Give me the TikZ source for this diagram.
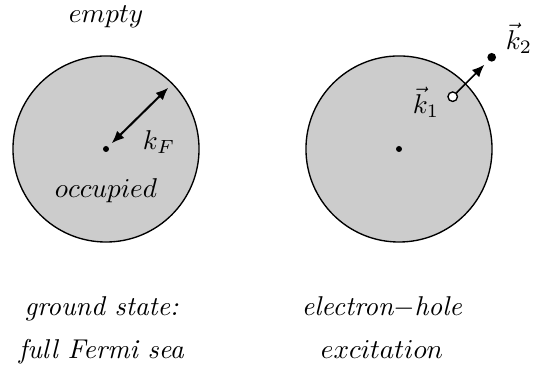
\documentclass[tikz,border=0pt]{standalone}
\usetikzlibrary{arrows.meta}
\begin{document}
\begin{tikzpicture}[x=0.3676pt,y=-0.3676pt,
  >={Latex[length=4.6pt,width=3.8pt]},
  sea/.style={circle,draw,line width=0.5pt,fill=black!20,minimum size=68.4pt,inner sep=0pt},
  cdot/.style={circle,fill=black,minimum size=2.2pt,inner sep=0pt},
  elec/.style={circle,fill=black,minimum size=3.2pt,inner sep=0pt},
  hole/.style={circle,draw,line width=0.5pt,fill=white,minimum size=3.5pt,inner sep=0pt},
  lbl/.style={inner sep=0pt}]
\useasboundingbox (0,0) rectangle (546,367);
% left
\node[sea] (c1) at (106,149) {};
\node[cdot] (d1) at (106,149) {};
\coordinate (a1) at (111.7,143.3);
\coordinate (b1) at (168.3,87.7);
\draw[line width=0.75pt,<->] (a1) -- (b1);
\node[lbl] (kf) at (159,142) {$k_F$};
\node[lbl] (empty) at (106,17) {$empty$};
\node[lbl] (occ) at (106,191) {$occupied$};
% right
\node[sea] (c2) at (399,149) {};
\node[cdot] (d2) at (399,149) {};
\node[hole] (h) at (452.7,96.7) {};
\node[elec] (e) at (491.7,57.3) {};
\draw[line width=0.6pt,->,shorten >=2pt] (h) -- (e);
\node[lbl] (k1) at (426,102) {$\vec k_1$};
\node[lbl] (k2) at (519,38) {$\vec k_2$};
% captions
\node[lbl,anchor=base] (g1) at (101.6,316) {\textit{ground state:}};
\node[lbl,anchor=base] (g2) at (101.6,359) {\textit{full Fermi sea}};
\node[lbl,anchor=base] (x1) at (382,316) {\textit{electron$-$hole}};
\node[lbl,anchor=base] (x2) at (382,359) {$excitation$};
\end{tikzpicture}
\end{document}
